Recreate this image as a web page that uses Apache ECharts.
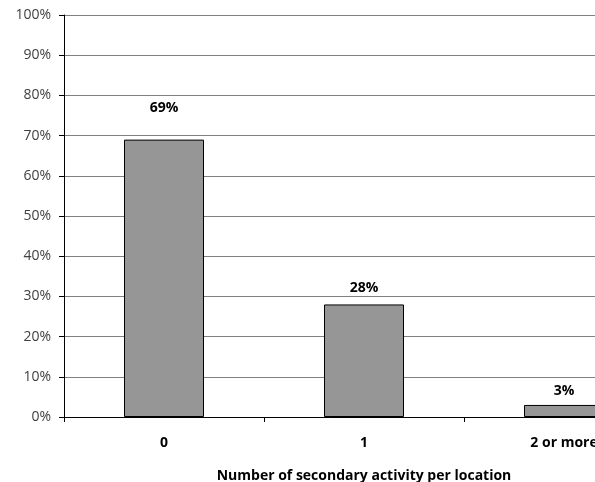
<!DOCTYPE html>
<html><head><meta charset="utf-8">
<script src="https://cdn.jsdelivr.net/npm/echarts@6/dist/echarts.min.js"></script>
<style>html,body{margin:0;padding:0;background:#fff}#c{width:595px;height:482px}</style>
</head><body><div id="c"></div>
<script>
var categories = ['0', '1', '2 or more'];
var values = [69, 28, 3];
var labelOffsets = [-20, -4, -2];
var yTicks = [0, 10, 20, 30, 40, 50, 60, 70, 80, 90, 100];

var chart = echarts.init(document.getElementById('c'), null, {renderer: 'canvas'});
var font = '"Open Sans", "Liberation Sans", sans-serif';
chart.setOption({
  animation: false,
  grid: {left: 64, width: 600, top: 15, height: 402, containLabel: false, outerBoundsMode: 'none'},
  xAxis: {
    type: 'category', data: categories,
    axisLine: {lineStyle: {color: '#000', width: 1}},
    axisTick: {show: true, length: 5, lineStyle: {color: '#000'}},
    axisLabel: {color: '#000', fontWeight: 'bold', fontSize: 14, fontFamily: font, margin: 19},
    name: 'Number of secondary activity per location',
    nameLocation: 'middle', nameGap: 52,
    nameTextStyle: {color: '#000', fontWeight: 'bold', fontSize: 14, fontFamily: font}
  },
  yAxis: {
    type: 'value', min: 0, max: 100, interval: 10,
    axisLine: {show: true, lineStyle: {color: '#000', width: 1}},
    axisTick: {show: true, length: 5, lineStyle: {color: '#000'}},
    axisLabel: {color: '#404040', fontSize: 14, fontFamily: font, margin: 13,
      formatter: function (v) { return yTicks.indexOf(v) >= 0 ? v + '%' : ''; }},
    splitLine: {show: true, lineStyle: {color: '#808080', width: 1}}
  },
  series: [{
    type: 'bar', barWidth: '40%',
    data: values.map(function (v, i) {
      return {value: v, label: {offset: [0, labelOffsets[i]]}};
    }),
    itemStyle: {color: '#969696', borderColor: '#000', borderWidth: 1},
    label: {show: true, position: 'top', formatter: '{c}%', color: '#000',
      fontWeight: 'bold', fontSize: 14, fontFamily: font}
  }]
});
</script></body></html>
